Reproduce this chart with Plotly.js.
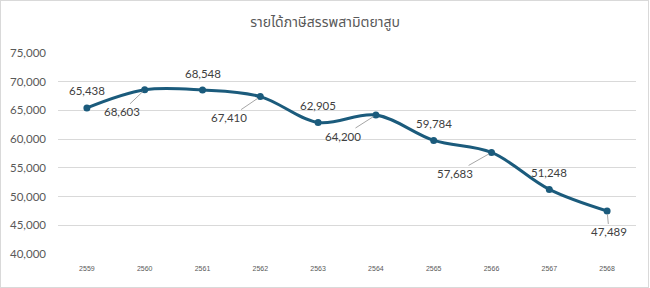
<!DOCTYPE html>
<html>
<head>
<meta charset="utf-8">
<script src="https://cdn.plot.ly/plotly-3.0.1.min.js"></script>
<style>
  html, body { margin: 0; padding: 0; background: #fff; }
  #wrap { position: absolute; left: 0; top: 0; width: 647px; height: 286px; border: 1px solid #d9d9d9; }
  #chart { position: absolute; left: -1px; top: -1px; width: 650px; height: 288px; }
</style>
</head>
<body>
<div id="wrap"><div id="chart"></div></div>
<script>
// Data
const years = ['2559', '2560', '2561', '2562', '2563', '2564', '2565', '2566', '2567', '2568'];
const revenue = [65438, 68603, 68548, 67410, 62905, 64200, 59784, 57683, 51248, 47489];
const titleText = 'รายได้ภาษีสรรพสามิตยาสูบ';

// Label placement (pixel offsets, styling only)
const labelOffsets = [
  {lead: false, dx: 0, dy: 17},
  {lead: true, ax: -23, ay: 22},
  {lead: false, dx: 0, dy: 17},
  {lead: true, ax: -31, ay: 21},
  {lead: false, dx: 0, dy: 17},
  {lead: true, ax: -33, ay: 21},
  {lead: false, dx: 0, dy: 17},
  {lead: true, ax: -37, ay: 21},
  {lead: false, dx: 0, dy: 17},
  {lead: true, ax: 2, ay: 21}
];

const lineColor = '#1b5b7c';
const labelFont = {family: 'Lato, Liberation Sans, sans-serif', size: 11.5, color: '#404040'};

function fmt(v) {
  return String(v).replace(/\B(?=(\d{3})+(?!\d))/g, ',');
}

const annotations = [];
for (let i = 0; i < years.length; i++) {
  const o = labelOffsets[i];
  const a = {
    x: i, y: revenue[i], xref: 'x', yref: 'y',
    text: fmt(revenue[i]),
    font: labelFont
  };
  if (o.lead) {
    a.showarrow = true;
    a.arrowhead = 0;
    a.arrowwidth = 1;
    a.arrowcolor = '#a6a6a6';
    a.ax = o.ax;
    a.ay = o.ay;
    a.standoff = 3;
  } else {
    a.showarrow = false;
    a.xshift = o.dx;
    a.yshift = o.dy;
  }
  annotations.push(a);
}

const trace = {
  x: years,
  y: revenue,
  type: 'scatter',
  mode: 'lines+markers',
  line: {color: lineColor, width: 3, shape: 'spline', smoothing: 1},
  marker: {color: lineColor, size: 7},
  hoverinfo: 'x+y'
};

const layout = {
  width: 650,
  height: 288,
  margin: {l: 58, r: 14, t: 53, b: 33.5},
  paper_bgcolor: 'rgba(0,0,0,0)',
  plot_bgcolor: 'rgba(0,0,0,0)',
  showlegend: false,
  title: {
    text: titleText,
    x: 0.5, xanchor: 'center',
    y: 0.925, yanchor: 'middle',
    font: {family: 'Noto Sans Thai, Tahoma, Noto Sans, sans-serif', size: 14, color: '#595959'}
  },
  xaxis: {
    type: 'category',
    range: [-0.5, 9.5],
    showgrid: false,
    zeroline: false,
    showline: false,
    ticks: '',
    ticklabelstandoff: 9,
    tickfont: {family: 'Liberation Sans, sans-serif', size: 7, color: '#595959'}
  },
  yaxis: {
    range: [40000, 75000],
    tickvals: [40000, 45000, 50000, 55000, 60000, 65000, 70000, 75000],
    tickformat: ',d',
    showgrid: true,
    gridcolor: '#d9d9d9',
    gridwidth: 1,
    zeroline: false,
    showline: false,
    ticks: '',
    ticklabelstandoff: 11,
    tickfont: {family: 'Lato, Liberation Sans, sans-serif', size: 11.5, color: '#595959'}
  },
  annotations: annotations
};

Plotly.newPlot('chart', [trace], layout, {displayModeBar: false, staticPlot: true});
</script>
</body>
</html>
